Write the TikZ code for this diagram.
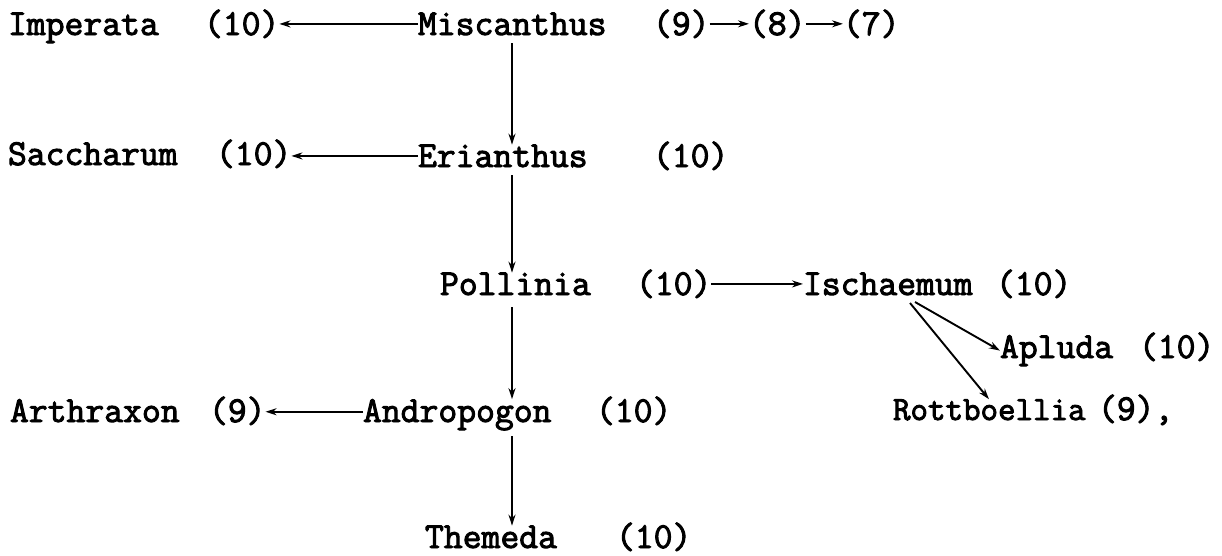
\documentclass[tikz,border=0pt]{standalone}
\usepackage{fontspec}
\newfontfamily\tw{Latin Modern Mono}[FakeBold=2.6]
\usetikzlibrary{arrows.meta,calc}
\begin{document}
\begin{tikzpicture}[x=1pt,y=-1pt,
  lbl/.style={anchor=base west,inner sep=0pt,outer sep=0pt,font=\tw\fontsize{36.6}{40}\selectfont},
  arr/.style={line width=1.9pt,-{Stealth[length=11pt,width=7pt]}}]
\useasboundingbox (0,0) rectangle (1222,555);
\coordinate (axis) at (512,0);
% row 1
\node[lbl] (imp)   at (8,35)   {Imperata};
\node[lbl] (imp10) at (204,35) {(10)};
\node[lbl] (misc)  at (418,35) {Miscanthus};
\node[lbl] (n9)    at (653,35) {(9)};
\node[lbl] (n8)    at (749,35) {(8)};
\node[lbl] (n7)    at (843,35) {(7)};
% row 2
\node[lbl] (sac)   at (8,165)   {Saccharum};
\node[lbl] (sac10) at (216,165) {(10)};
\node[lbl] (eri)   at (418,167) {Erianthus};
\node[lbl] (eri10) at (653,167) {(10)};
% row 3
\node[lbl] (pol)   at (440,295) {Pollinia};
\node[lbl] (pol10) at (636,295) {(10)};
\node[lbl] (isch)  at (803,295) {Ischaemum};
\node[lbl] (isch10) at (996,295) {(10)};
\node[lbl] (apl)   at (1000,358) {Apluda};
\node[lbl] (apl10) at (1139,358) {(10)};
% row 4
\node[lbl] (art)   at (10,422)  {Arthraxon};
\node[lbl] (art9)  at (209,422) {(9)};
\node[lbl] (andr)  at (363,422) {Andropogon};
\node[lbl] (andr10) at (596,422) {(10)};
\node[lbl,font=\tw\fontsize{34}{38}\selectfont] (rot) at (893,420) {Rottboellia};
\node[lbl] (rot9)  at (1098,420) {(9),};
% row 5
\node[lbl] (them)  at (425,548) {Themeda};
\node[lbl] (them10) at (616,548) {(10)};
% horizontal arrows
\draw[arr] (misc.west) -- (imp10.east |- misc.west);
\draw[arr] (n9.east) -- (n8.west);
\draw[arr] (n8.east) -- (n7.west);
\draw[arr] (eri.west) -- (sac10.east |- eri.west);
\draw[arr] (pol10.east |- isch.west) -- (isch.west);
\draw[arr] ($(andr.west)+(0,-3)$) -- ($(art9.east |- andr.west)+(0,-3)$);
% vertical arrows
\draw[arr,shorten <=8pt] (misc.south -| axis) -- (eri.north -| axis);
\draw[arr,shorten <=8pt] (eri.south -| axis) -- (pol.north -| axis);
\draw[arr,shorten <=12pt] (pol.south -| axis) -- (andr.north -| axis);
\draw[arr,shorten <=6pt] (andr.south -| axis) -- (them.north -| axis);
% diagonal arrows
\draw[arr] ($(isch.base west)+(112,7)$) -- (apl.west);
\draw[arr] ($(isch.base west)+(107,8)$) -- ($(rot.north west)+(96,0)$);
\end{tikzpicture}
\end{document}
